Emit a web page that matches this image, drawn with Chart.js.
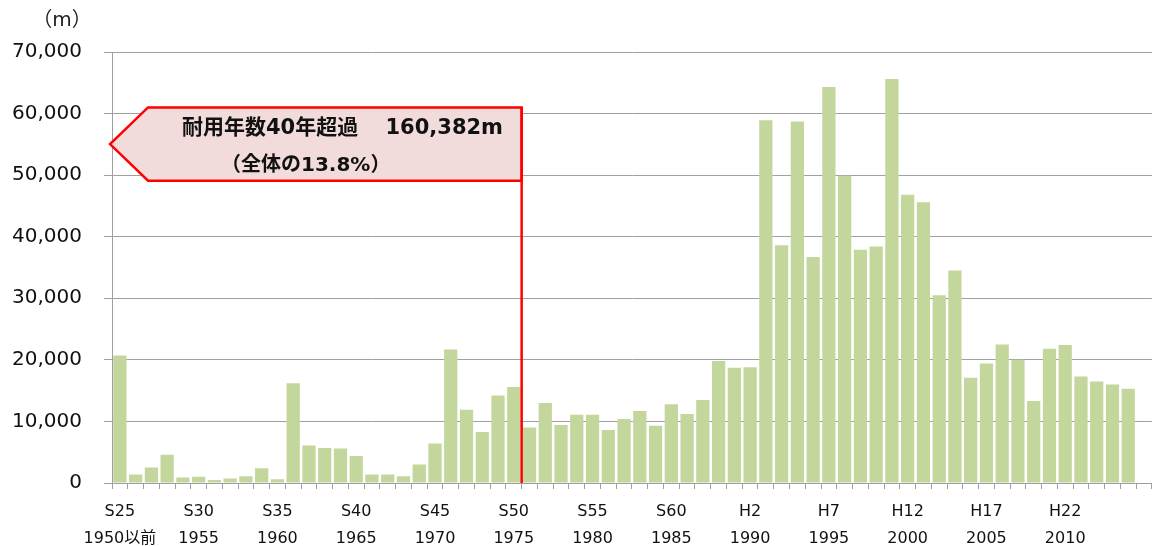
<!DOCTYPE html>
<html>
<head>
<meta charset="utf-8">
<script src="https://cdn.jsdelivr.net/npm/chart.js@4"></script>
<style>
  body { margin: 0; background: #fff; }
</style>
</head>
<body>
<canvas id="graph" width="1153" height="546"></canvas>
<script>
// construction year (1950 = 1950 and before), last slot is empty
const years = ['1950','1951','1952','1953','1954','1955','1956','1957','1958','1959',
  '1960','1961','1962','1963','1964','1965','1966','1967','1968','1969',
  '1970','1971','1972','1973','1974','1975','1976','1977','1978','1979',
  '1980','1981','1982','1983','1984','1985','1986','1987','1988','1989',
  '1990','1991','1992','1993','1994','1995','1996','1997','1998','1999',
  '2000','2001','2002','2003','2004','2005','2006','2007','2008','2009',
  '2010','2011','2012','2013','2014','2015'];

// pipe length per year (m)
const lengths = [20700, 1400, 2500, 4600, 900, 1000, 500, 750, 1100, 2400,
  600, 16200, 6100, 5700, 5600, 4400, 1400, 1400, 1100, 3000,
  6400, 21700, 11900, 8300, 14200, 15600, 9000, 13000, 9400, 11100,
  11100, 8600, 10400, 11700, 9300, 12800, 11200, 13500, 19800, 18700,
  18800, 58900, 38600, 58700, 36700, 64300, 49900, 37900, 38400, 65600,
  46800, 45600, 30500, 34500, 17100, 19400, 22500, 20000, 13300, 21800,
  22400, 17300, 16500, 16000, 15300, null];

// tick labels every 5 years
const eraLabels = ['S25','S30','S35','S40','S45','S50','S55','S60','H2','H7','H12','H17','H22'];
const yearLabels = ['1950以前','1955','1960','1965','1970','1975','1980','1985','1990','1995','2000','2005','2010'];

const FONT = "'DejaVu Sans', 'Noto Sans CJK JP', sans-serif";
const gridColor = '#a0a0a0';

// red arrow box and line for pipes over 40 years
const overAgePlugin = {
  id: 'overAge',
  afterDatasetsDraw(chart) {
    const ctx = chart.ctx;
    const x = chart.scales.x, y = chart.scales.y;
    const lineX = (x.getPixelForValue(25) + x.getPixelForValue(26)) / 2;
    const top = y.getPixelForValue(61000);
    const bottom = y.getPixelForValue(49100);
    const mid = (top + bottom) / 2;
    const tipX = chart.chartArea.left - 2;
    const cornerX = tipX + 38;

    ctx.save();
    ctx.beginPath();
    ctx.moveTo(tipX, mid);
    ctx.lineTo(cornerX, top);
    ctx.lineTo(lineX, top);
    ctx.lineTo(lineX, bottom);
    ctx.lineTo(cornerX, bottom);
    ctx.closePath();
    ctx.fillStyle = '#f2dcdb';
    ctx.fill();
    ctx.strokeStyle = '#ff0000';
    ctx.lineWidth = 2.5;
    ctx.stroke();

    ctx.beginPath();
    ctx.moveTo(lineX, top);
    ctx.lineTo(lineX, y.getPixelForValue(0));
    ctx.stroke();

    ctx.fillStyle = '#111';
    ctx.font = 'bold 21px ' + FONT;
    ctx.textBaseline = 'middle';
    ctx.textAlign = 'left';
    ctx.fillText('耐用年数40年超過', 182, top + 21);
    ctx.textAlign = 'right';
    ctx.fillText('160,382m', 503, top + 21);
    ctx.textAlign = 'left';
    ctx.font = 'bold 20px ' + FONT;
    ctx.fillText('（全体の13.8%）', 221, top + 58);

    // unit label
    ctx.font = '20px ' + FONT;
    ctx.fillStyle = '#222';
    ctx.textAlign = 'center';
    ctx.fillText('（m）', 62, 21);
    ctx.restore();
  }
};

new Chart(document.getElementById('graph'), {
  type: 'bar',
  data: {
    labels: years,
    datasets: [{
      data: lengths,
      backgroundColor: '#c3d69b',
      categoryPercentage: 1,
      barPercentage: 0.84
    }]
  },
  options: {
    responsive: false,
    animation: false,
    devicePixelRatio: 1,
    layout: { padding: { left: 0, right: 1, top: 52, bottom: 0 } },
    plugins: {
      legend: { display: false },
      tooltip: { enabled: false }
    },
    scales: {
      x: {
        offset: true,
        grid: {
          offset: true,
          drawOnChartArea: false,
          drawTicks: true,
          tickLength: 6,
          color: gridColor
        },
        border: { color: gridColor },
        ticks: {
          autoSkip: false,
          maxRotation: 0,
          minRotation: 0,
          padding: 9,
          color: '#111',
          font: { family: FONT, size: 16, lineHeight: 1.7 },
          callback: function (value, index) {
            if (index % 5 !== 0 || index / 5 >= eraLabels.length) return '';
            return [eraLabels[index / 5], yearLabels[index / 5]];
          }
        },
        afterFit: function (scale) { scale.height = 63; }
      },
      y: {
        min: 0,
        max: 70000,
        grid: {
          color: gridColor,
          tickLength: 8
        },
        border: { color: gridColor },
        ticks: {
          stepSize: 10000,
          padding: 22,
          color: '#111',
          font: { family: FONT, size: 20 },
          callback: function (value) { return value.toLocaleString('en-US'); }
        },
        afterFit: function (scale) { scale.width = 112; }
      }
    }
  },
  plugins: [overAgePlugin]
});
</script>
</body>
</html>
